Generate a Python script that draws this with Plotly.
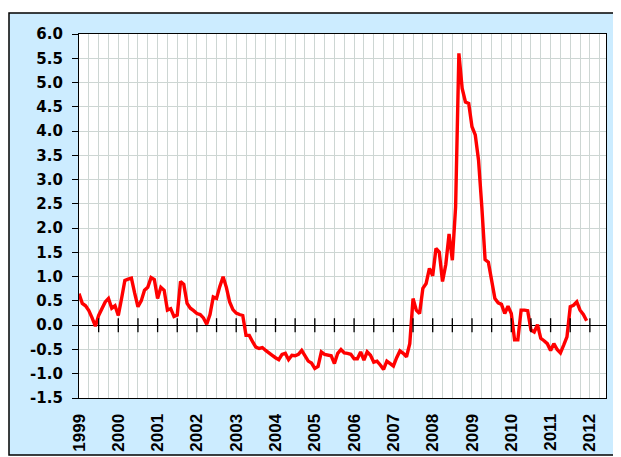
import plotly.graph_objects as go

# Monthly values, Jan 1999 .. Dec 2011
start_year = 1999
values = [
    0.65, 0.45, 0.40, 0.30, 0.15, -0.02, 0.20, 0.35, 0.48, 0.55,
    0.35, 0.40, 0.20, 0.55, 0.92, 0.95, 0.97, 0.66, 0.38, 0.50,
    0.72, 0.78, 0.98, 0.94, 0.55, 0.78, 0.72, 0.31, 0.34, 0.18,
    0.21, 0.90, 0.84, 0.45, 0.35, 0.30, 0.24, 0.22, 0.15, 0.02,
    0.22, 0.58, 0.55, 0.80, 1.00, 0.78, 0.48, 0.32, 0.25, 0.22,
    0.20, -0.21, -0.21, -0.34, -0.45, -0.48, -0.46, -0.52, -0.58, -0.62,
    -0.67, -0.71, -0.60, -0.58, -0.71, -0.62, -0.63, -0.60, -0.52, -0.62,
    -0.74, -0.78, -0.89, -0.85, -0.55, -0.60, -0.61, -0.63, -0.79, -0.58,
    -0.50, -0.57, -0.58, -0.60, -0.69, -0.69, -0.55, -0.72, -0.55, -0.62,
    -0.76, -0.74, -0.82, -0.91, -0.74, -0.80, -0.84, -0.67, -0.53, -0.58,
    -0.65, -0.38, 0.55, 0.31, 0.24, 0.76, 0.86, 1.17, 1.02, 1.58,
    1.51, 0.90, 1.25, 1.88, 1.34, 2.44, 5.60, 4.88, 4.60, 4.57,
    4.09, 3.92, 3.40, 2.44, 1.35, 1.30, 0.93, 0.55, 0.46, 0.43,
    0.24, 0.39, 0.24, -0.30, -0.30, 0.31, 0.31, 0.30, -0.10, -0.14,
    0.01, -0.27, -0.32, -0.38, -0.52, -0.38, -0.50, -0.57, -0.41, -0.24,
    0.38, 0.41, 0.48, 0.31, 0.22, 0.09,
]
x_vals = [start_year + i / 12 for i in range(len(values))]

# Axis ticks
quarter_ticks = [1999 + q / 4 for q in range(54)]
quarter_text = [str(1999 + q // 4) if q % 4 == 0 else "" for q in range(54)]
half_year_ticks = [1999.5 + k * 0.5 for k in range(26)]
y_ticks = [-1.5, -1.0, -0.5, 0.0, 0.5, 1.0, 1.5, 2.0, 2.5, 3.0, 3.5, 4.0, 4.5, 5.0, 5.5, 6.0]
y_text = ["%.1f" % v for v in y_ticks]

fig = go.Figure()
fig.add_trace(go.Scatter(
    x=x_vals, y=values, mode="lines",
    line=dict(color="#FF0000", width=3.4),
    hoverinfo="skip", showlegend=False,
))
fig.add_trace(go.Scatter(
    x=half_year_ticks, y=[0] * len(half_year_ticks), mode="markers",
    marker=dict(symbol="line-ns", size=10, line=dict(color="black", width=1.3)),
    hoverinfo="skip", showlegend=False,
))

# the page body has an 8px margin, so the figure is 8px smaller than the window
W, H = 613, 449
L, R, T, B = 71, 15, 26, 59
pw, ph = W - L - R, H - T - B

def px_x(p):
    return (p - L) / pw

def px_y(p):
    return (H - B - p) / ph

fig.update_layout(
    width=W, height=H,
    margin=dict(l=L, r=R, t=T, b=B, pad=0, autoexpand=False),
    paper_bgcolor="white",
    plot_bgcolor="white",
    showlegend=False,
    shapes=[
        dict(type="rect", xref="paper", yref="paper", layer="below",
             x0=px_x(1), x1=px_x(618), y0=px_y(447), y1=px_y(5),
             fillcolor="#CCECFF", line=dict(color="black", width=1.5)),
        dict(type="rect", xref="paper", yref="paper", layer="below",
             x0=0, x1=1, y0=0, y1=1,
             fillcolor="white", line=dict(width=0)),
    ],
    xaxis=dict(
        range=[1999, 2012.41], automargin=False,
        tickmode="array", tickvals=quarter_ticks, ticktext=quarter_text,
        tickangle=-90, ticks="",
        tickfont=dict(family="Liberation Sans", size=17, color="black", weight="bold"),
        ticklabelstandoff=8,
        showgrid=True, gridcolor="#CDD6D3", gridwidth=1,
        showline=True, linecolor="black", linewidth=1.2, mirror=True,
        zeroline=False, fixedrange=True,
    ),
    yaxis=dict(
        range=[-1.5, 6.0], automargin=False,
        tickmode="array", tickvals=y_ticks, ticktext=y_text,
        ticks="outside", ticklen=6, tickcolor="black", tickwidth=1.2,
        tickfont=dict(family="DejaVu Sans", size=15, color="black", weight="bold"),
        ticklabelstandoff=6,
        showgrid=True, gridcolor="#CDD6D3", gridwidth=1,
        showline=True, linecolor="black", linewidth=1.2, mirror=True,
        zeroline=True, zerolinecolor="black", zerolinewidth=1.2,
        fixedrange=True,
    ),
)

fig.write_html("out.html")
